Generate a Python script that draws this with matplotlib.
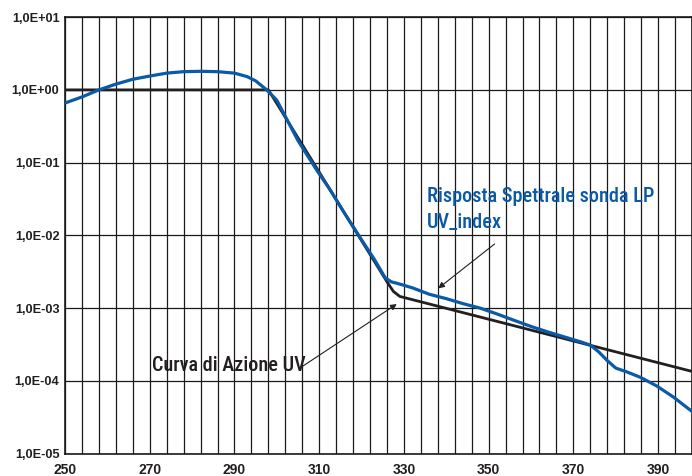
import numpy as np
import matplotlib
matplotlib.use("Agg")
import matplotlib.pyplot as plt
from matplotlib.ticker import FixedLocator, FixedFormatter, NullLocator

# Data
blue_x = [250, 254, 258, 262, 266, 270, 274, 278, 282, 286, 290, 293, 295, 297.6,
          300, 305, 309.4, 312.6, 316, 320, 323, 325.6, 327, 328.3, 329.5, 332, 336,
          340, 344, 348, 352, 356, 360, 364, 368, 372, 374, 376, 378, 380, 382.6,
          385.8, 389.7, 393.6, 398]
blue_y = [0.66, 0.80, 1.00, 1.20, 1.40, 1.55, 1.70, 1.78, 1.80, 1.78, 1.70, 1.52, 1.33, 1.00,
          0.72, 0.20, 0.079, 0.042, 0.020, 8.7e-3, 4.7e-3, 2.6e-3, 2.3e-3, 2.2e-3, 2.1e-3,
          1.9e-3, 1.55e-3, 1.35e-3, 1.15e-3, 1.0e-3, 8.3e-4, 6.8e-4, 5.6e-4, 4.7e-4,
          4.0e-4, 3.4e-4, 3.1e-4, 2.5e-4, 1.9e-4, 1.5e-4, 1.33e-4, 1.12e-4, 8.5e-5,
          6.0e-5, 3.8e-5]

black_x = [250, 298, 326, 327.5, 329, 398]
black_y = [1.0, 1.0, 2.3e-3, 1.7e-3, 1.45e-3, 1.35e-4]

x_ticks = [250, 270, 290, 310, 330, 350, 370, 390]
y_ticks = [1e-5, 1e-4, 1e-3, 1e-2, 1e-1, 1e0, 1e1]
y_labels = ["1,0E-05", "1,0E-04", "1,0E-03", "1,0E-02", "1,0E-01", "1,0E+00", "1,0E+01"]

label_blue_1 = "Risposta Spettrale sonda LP"
label_blue_2 = "UV_index"
label_black = "Curva di Azione UV"

fig = plt.figure(figsize=(6.92, 4.76), dpi=100)
ax = fig.add_axes([0.094, 0.047, 0.906, 0.917])
ax.set_yscale("log")
ax.set_xlim(250, 398)
ax.set_ylim(1e-5, 10)

ax.xaxis.set_major_locator(FixedLocator(x_ticks))
ax.xaxis.set_minor_locator(FixedLocator(np.arange(250, 399, 4)))
ax.yaxis.set_major_locator(FixedLocator(y_ticks))
ax.yaxis.set_major_formatter(FixedFormatter(y_labels))
ax.yaxis.set_minor_locator(NullLocator())
ax.grid(True, which="both", axis="x", color="#1a1a1a", linewidth=0.9)
ax.grid(True, which="major", axis="y", color="#1a1a1a", linewidth=0.9)
ax.set_axisbelow(True)
ax.tick_params(which="both", length=0)
ax.tick_params(axis="y", pad=4)
ax.tick_params(axis="x", pad=7)
for lab in ax.get_xticklabels():
    lab.set_fontweight("bold"); lab.set_fontsize(10); lab.set_color("#231f20")
    lab.set_family(["Liberation Sans", "DejaVu Sans"])
for lab in ax.get_yticklabels():
    lab.set_fontweight("bold"); lab.set_fontsize(9.2); lab.set_color("#231f20")
    lab.set_family(["Liberation Sans", "DejaVu Sans"])
for s in ax.spines.values():
    s.set_color("#1a1a1a"); s.set_linewidth(1.2)

ax.plot(black_x, black_y, color="#231f20", linewidth=2.0, zorder=3)
ax.plot(blue_x, blue_y, color="#0a5aa8", linewidth=2.3, zorder=4)

cond = ["Roboto Condensed", "DejaVu Sans"]
tkw = dict(fontsize=14.6, family=cond, stretch="condensed", weight="medium",
           va="baseline", ha="left")
ax.text(335.4, 10**(-1.541), label_blue_1, color="#0a5aa8", **tkw)
ax.text(335.4, 10**(-1.898), label_blue_2, color="#0a5aa8", **tkw)
ax.text(270.5, 10**(-3.865), label_black, color="#231f20", **tkw)
ax.annotate("", xy=(338.1, 10**(-2.728)), xytext=(351.4, 10**(-2.118)),
            arrowprops=dict(arrowstyle="-|>", color="#231f20", lw=0.8,
                            mutation_scale=9, shrinkA=0, shrinkB=0))
ax.annotate("", xy=(328.3, 10**(-2.944)), xytext=(305.9, 10**(-3.806)),
            arrowprops=dict(arrowstyle="-|>", color="#231f20", lw=0.8,
                            mutation_scale=9, shrinkA=0, shrinkB=0))

fig.savefig("out.png", dpi=100)
